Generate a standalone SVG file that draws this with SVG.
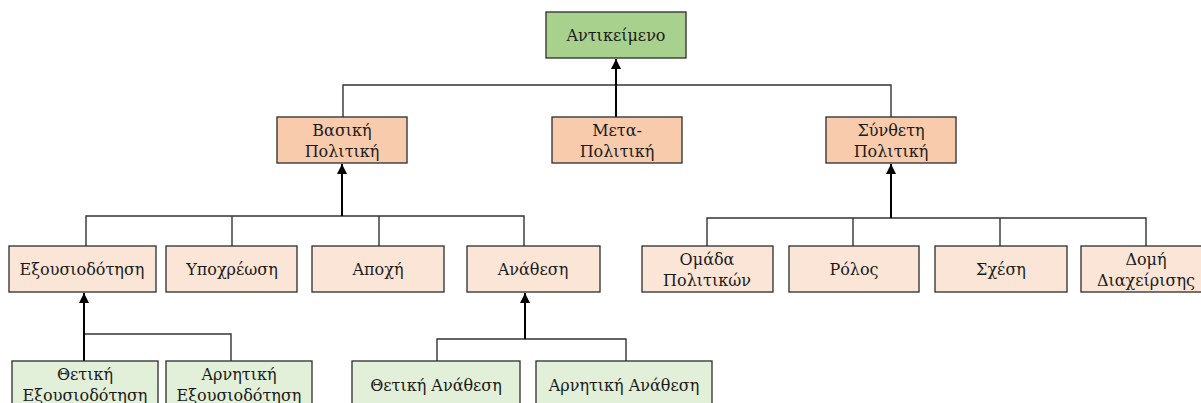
<svg xmlns="http://www.w3.org/2000/svg" width="1201" height="403" viewBox="0 0 1201 403">
<style>
.box{stroke:#2b2b2b;stroke-width:1.3}
.g1{fill:#a9d18e}
.o1{fill:#f8cbad}
.o2{fill:#fbe5d6}
.g2{fill:#e2f0d9}
.t{font-family:"DejaVu Serif",serif;font-size:16px;fill:#1a1a1a;text-anchor:middle}
.ln{fill:none;stroke:#333;stroke-width:1.4}
.ar{fill:none;stroke:#000;stroke-width:2}
</style>
<defs>
<marker id="arr" viewBox="0 0 10 10" refX="10" refY="5" markerWidth="5" markerHeight="5" orient="auto" markerUnits="strokeWidth">
<path d="M0,0 L10,5 L0,10 z" fill="#000"/>
</marker>
</defs>
<rect width="1201" height="403" fill="#fff"/>
<g id="connectors">
<path class="ln" d="M343,117 V85 H891 V117"/>
<path class="ar" d="M616,117 V59" marker-end="url(#arr)"/>
<path class="ln" d="M86,246 V216 H524 V246 M232,216 V246 M379,216 V246"/>
<path class="ar" d="M342,216 V164" marker-end="url(#arr)"/>
<path class="ln" d="M707,246 V218 H1146 V246 M853,218 V246 M1000,218 V246"/>
<path class="ar" d="M891,218 V164" marker-end="url(#arr)"/>
<path class="ln" d="M84,334 H231 V361"/>
<path class="ar" d="M84,361 V293" marker-end="url(#arr)"/>
<path class="ln" d="M437,361 V339 H626 V361"/>
<path class="ar" d="M525,339 V293" marker-end="url(#arr)"/>
</g>
<g id="n-root"><rect class="box g1" x="546" y="12" width="140" height="46"/><text class="t" x="616" y="41">Αντικείμενο</text></g>
<g id="n-basic"><rect class="box o1" x="277" y="117" width="130" height="46"/><text class="t" x="342" y="136">Βασική</text><text class="t" x="342" y="157">Πολιτική</text></g>
<g id="n-meta"><rect class="box o1" x="552" y="117" width="130" height="46"/><text class="t" x="617" y="136">Μετα-</text><text class="t" x="617" y="157">Πολιτική</text></g>
<g id="n-comp"><rect class="box o1" x="826" y="117" width="130" height="46"/><text class="t" x="891" y="136">Σύνθετη</text><text class="t" x="891" y="157">Πολιτική</text></g>
<g id="n-auth"><rect class="box o2" x="9" y="246" width="147" height="46"/><text class="t" x="82" y="275">Εξουσιοδότηση</text></g>
<g id="n-oblig"><rect class="box o2" x="166" y="246" width="131" height="46"/><text class="t" x="232" y="275">Υποχρέωση</text></g>
<g id="n-abst"><rect class="box o2" x="312" y="246" width="132" height="46"/><text class="t" x="378" y="275">Αποχή</text></g>
<g id="n-deleg"><rect class="box o2" x="467" y="246" width="133" height="46"/><text class="t" x="533" y="275">Ανάθεση</text></g>
<g id="n-group"><rect class="box o2" x="642" y="246" width="131" height="46"/><text class="t" x="707" y="265">Ομάδα</text><text class="t" x="707" y="286">Πολιτικών</text></g>
<g id="n-role"><rect class="box o2" x="789" y="246" width="130" height="46"/><text class="t" x="854" y="275">Ρόλος</text></g>
<g id="n-rel"><rect class="box o2" x="935" y="246" width="132" height="46"/><text class="t" x="1001" y="275">Σχέση</text></g>
<g id="n-mgmt"><rect class="box o2" x="1081" y="246" width="131" height="46"/><text class="t" x="1146" y="265">Δομή</text><text class="t" x="1146" y="286">Διαχείρισης</text></g>
<g id="n-posauth"><rect class="box g2" x="12" y="361" width="146" height="48"/><text class="t" x="85" y="380">Θετική</text><text class="t" x="85" y="401">Εξουσιοδότηση</text></g>
<g id="n-negauth"><rect class="box g2" x="166" y="361" width="146" height="48"/><text class="t" x="239" y="380">Αρνητική</text><text class="t" x="239" y="401">Εξουσιοδότηση</text></g>
<g id="n-posdel"><rect class="box g2" x="352" y="361" width="168" height="48"/><text class="t" x="436" y="391">Θετική Ανάθεση</text></g>
<g id="n-negdel"><rect class="box g2" x="536" y="361" width="176" height="48"/><text class="t" x="624" y="391">Αρνητική Ανάθεση</text></g>
</svg>
